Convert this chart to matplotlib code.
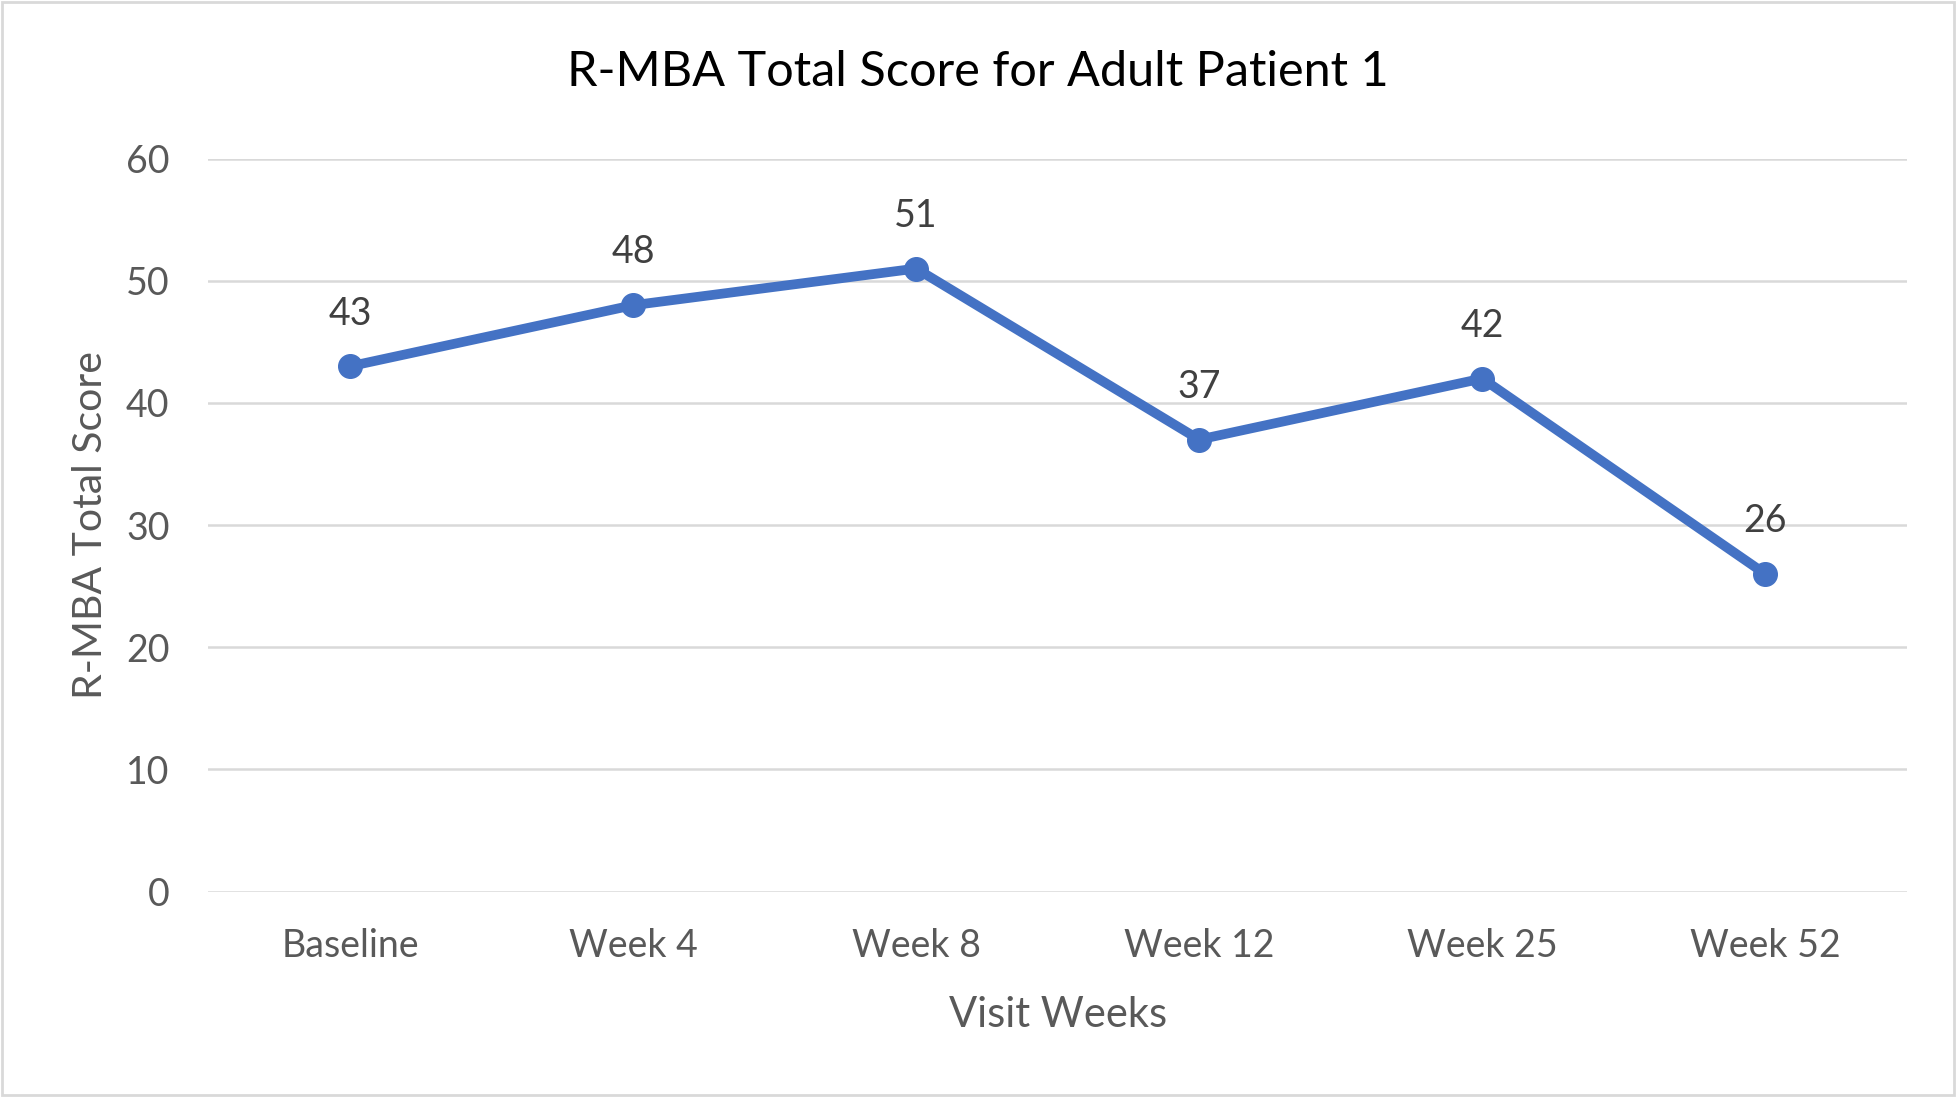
import matplotlib
matplotlib.use("Agg")
import matplotlib.pyplot as plt
from matplotlib.patches import Rectangle

# ── data ────────────────────────────────────────────────────────────────────
visits = ["Baseline", "Week 4", "Week 8", "Week 12", "Week 25", "Week 52"]
scores = [43, 48, 51, 37, 42, 26]
y_ticks = [0, 10, 20, 30, 40, 50, 60]

LINE_BLUE = "#4472C4"
TEXT_GREY = "#595959"
GRID_GREY = "#D9D9D9"

plt.rcParams["font.family"] = ["Lato", "DejaVu Sans"]

W, H = 1958, 1097
fig = plt.figure(figsize=(W / 100, H / 100), dpi=100)
ax = fig.add_axes([208.5 / W, 1 - 891.6 / H, (1906.8 - 208.5) / W, (891.6 - 158.6) / H])

x = list(range(len(visits)))
ax.plot(x, scores, color=LINE_BLUE, linewidth=7, marker="o", markersize=17,
        solid_capstyle="round", zorder=3)
for xi, s in zip(x, scores):
    ax.annotate(str(s), xy=(xi, s), xytext=(0, 38), textcoords="offset points",
                ha="center", va="center", fontsize=27, color="#404040")

ax.set_xlim(-0.5, len(visits) - 0.5)
ax.set_ylim(0, 60)
ax.set_yticks(y_ticks)
ax.set_xticks(x)
ax.set_xticklabels(visits)
ax.tick_params(axis="both", length=0, labelsize=27, labelcolor=TEXT_GREY)
ax.tick_params(axis="x", pad=26)
ax.tick_params(axis="y", pad=28)
ax.grid(axis="y", color=GRID_GREY, linewidth=1.8)
ax.set_axisbelow(True)
for sp in ax.spines.values():
    sp.set_visible(False)

ax.set_xlabel("Visit Weeks", fontsize=30, color=TEXT_GREY, labelpad=23)
ax.set_ylabel("R-MBA Total Score", fontsize=29.5, color=TEXT_GREY, labelpad=12)
fig.text(0.4995, 1 - 72 / H, "R-MBA Total Score for Adult Patient 1",
         ha="center", va="center", fontsize=35, color="#000000")

# light outer frame
fig.patches.append(Rectangle((0.001, 0.002), 0.997, 0.996, transform=fig.transFigure,
                             fill=False, edgecolor="#D9D9D9", linewidth=2))

fig.savefig("out.png", dpi=100, facecolor="white")
